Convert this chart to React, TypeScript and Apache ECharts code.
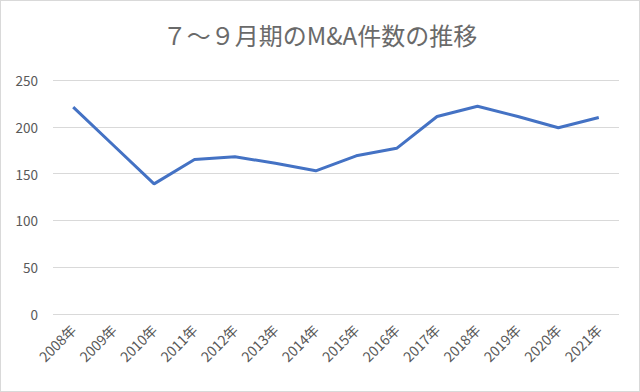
import React, { useEffect, useRef } from "react";
import * as echarts from "echarts";

const titleText = "７～９月期のM&A件数の推移";
const categories = [
  "2008年", "2009年", "2010年", "2011年", "2012年", "2013年", "2014年",
  "2015年", "2016年", "2017年", "2018年", "2019年", "2020年", "2021年",
];
const counts = [221, 180, 139, 165, 168, 161, 153, 169, 177, 211, 222, 211, 199, 210];
const yTicks = { min: 0, max: 250, interval: 50 };

export default function App() {
  const ref = useRef<HTMLDivElement>(null);
  useEffect(() => {
    document.body.style.margin = "0";
    if (!ref.current) return;
    const chart = echarts.init(ref.current, undefined, { renderer: "svg" });
    const font = "'Noto Sans CJK JP', 'Noto Sans', sans-serif";
    chart.setOption({
      animation: false,
      backgroundColor: "#ffffff",
      title: {
        text: titleText,
        left: "center",
        top: 16,
        textStyle: { fontSize: 24, fontWeight: "normal", color: "#6a6a6a", fontFamily: font },
      },
      grid: { left: 52, right: 20, top: 79, bottom: 77 },
      xAxis: {
        type: "category",
        data: categories,
        boundaryGap: true,
        axisLine: { show: false },
        axisTick: { show: false },
        axisLabel: { rotate: 45, color: "#595959", fontSize: 14, fontFamily: font, margin: 13, interval: 0 },
      },
      yAxis: {
        type: "value",
        min: yTicks.min,
        max: yTicks.max,
        interval: yTicks.interval,
        axisLine: { show: false },
        axisTick: { show: false },
        splitLine: { lineStyle: { color: "#d9d9d9", width: 1 } },
        axisLabel: { color: "#595959", fontSize: 13.5, fontFamily: font, margin: 15 },
      },
      series: [
        {
          type: "line",
          data: counts,
          symbol: "none",
          lineStyle: { color: "#4472C4", width: 3 },
          itemStyle: { color: "#4472C4" },
        },
      ],
    });
    return () => chart.dispose();
  }, []);
  return (
    <div
      ref={ref}
      style={{
        width: 640,
        height: 392,
        boxSizing: "border-box",
        border: "1px solid #d9d9d9",
      }}
    />
  );
}
